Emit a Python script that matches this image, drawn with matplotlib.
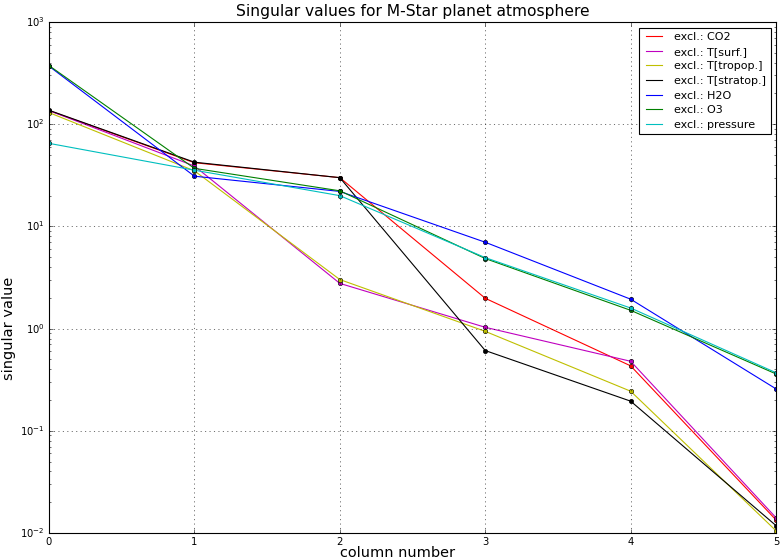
import matplotlib
matplotlib.use("Agg")
import matplotlib.pyplot as plt

plt.style.use('classic')

# column numbers
cols = [0, 1, 2, 3, 4, 5]

# singular values, one list per excluded quantity
co2 = [136, 42, 30, 1.98, 0.432, 0.0134]
t_surf = [136, 39, 2.77, 1.03, 0.479, 0.0141]
t_tropop = [130, 35, 3.02, 0.94, 0.244, 0.0105]
t_stratop = [137, 42.5, 30, 0.61, 0.195, 0.0118]
h2o = [370, 31, 22, 7.0, 1.94, 0.257]
o3 = [375, 37, 22.3, 4.85, 1.51, 0.36]
pressure = [65, 35.5, 20, 4.95, 1.59, 0.37]

labels = ['CO2', 'T[surf.]', 'T[tropop.]', 'T[stratop.]', 'H2O', 'O3', 'pressure']
series = [co2, t_surf, t_tropop, t_stratop, h2o, o3, pressure]
colors = ['r', 'm', 'y', 'k', 'b', 'g', 'c']

fig = plt.figure(figsize=(9.75, 6.9875), dpi=80)
ax = fig.add_axes([0.0628, 0.0465, 0.9322, 0.9141])

for vals, lab, c in zip(series, labels, colors):
    ax.semilogy(cols, vals, color=c, marker='o', markersize=4,
                markeredgecolor='k', markeredgewidth=0.5, label='excl.: ' + lab)

ax.set_xlim(0, 5)
ax.set_ylim(1e-2, 1e3)
ax.grid(True)
ax.tick_params(labelsize=9)
ax.set_title('Singular values for M-Star planet atmosphere', fontsize=14)
ax.set_xlabel('column number', fontsize=13)
ax.set_ylabel('singular value', fontsize=13)
# label placement as in the original
ax.xaxis.set_label_coords(0.48, -0.025, transform=ax.transAxes)
ax.yaxis.set_label_coords(-0.045, 0.40, transform=ax.transAxes)
ax.xaxis.label.set_va('top')

leg = ax.legend(loc='upper right', fontsize=10, labelspacing=0.42)
# legend shows plain lines only
for h in leg.get_lines():
    h.set_marker('None')

fig.savefig('out.png', dpi=80)
